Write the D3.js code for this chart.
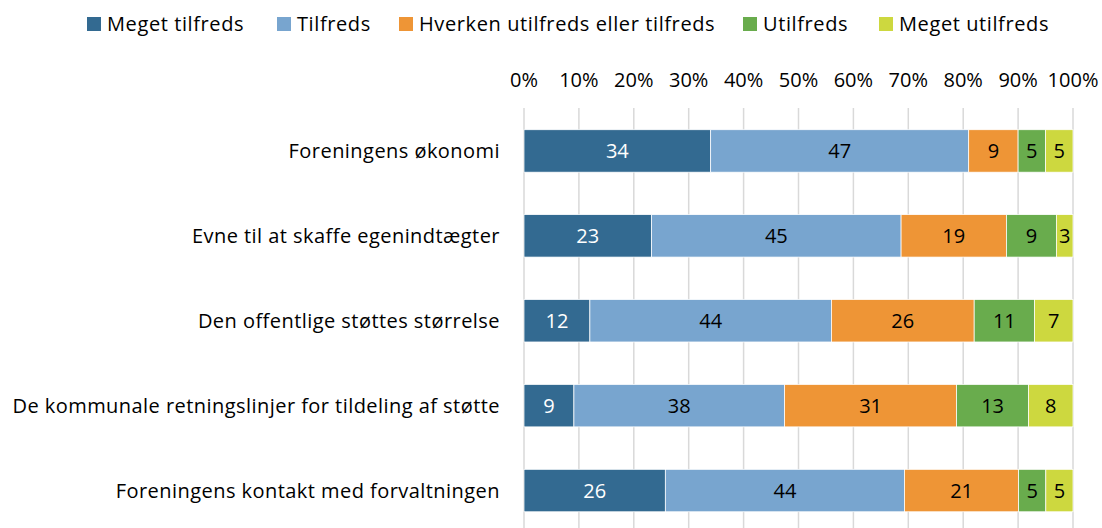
<!DOCTYPE html>
<html>
<head>
<meta charset="utf-8">
<script src="https://cdn.jsdelivr.net/npm/d3@7"></script>
<style>
  body { margin: 0; background: #fff; }
  svg { display: block; font-family: "Open Sans", Lato, sans-serif; }
</style>
</head>
<body>
<svg id="chart" width="1102" height="528"></svg>
<script>
// data
const categories = [
	'Foreningens økonomi',
	'Evne til at skaffe egenindtægter',
	'Den offentlige støttes størrelse',
	'De kommunale retningslinjer for tildeling af støtte',
	'Foreningens kontakt med forvaltningen'
]
const seriesNames = ['Meget tilfreds', 'Tilfreds', 'Hverken utilfreds eller tilfreds', 'Utilfreds', 'Meget utilfreds']
const megetTilfreds = [34, 23, 12, 9, 26]
const tilfreds = [47, 45, 44, 38, 44]
const hverken = [9, 19, 26, 31, 21]
const utilfreds = [5, 9, 11, 13, 5]
const megetUtilfreds = [5, 3, 7, 8, 5]
const tickValues = [0, 0.1, 0.2, 0.3, 0.4, 0.5, 0.6, 0.7, 0.8, 0.9, 1]

const colors = ['#336a91', '#78a5cf', '#ee9536', '#69ac4d', '#cdd83f']
const labelColors = ['#fff', '#000', '#000', '#000', '#000']
const fontSize = 20

const svg = d3.select('#chart')

const rows = categories.map((c, i) => ({
	cat: c,
	s0: megetTilfreds[i], s1: tilfreds[i], s2: hverken[i], s3: utilfreds[i], s4: megetUtilfreds[i]
}))
const keys = ['s0', 's1', 's2', 's3', 's4']
const stacked = d3.stack().keys(keys).offset(d3.stackOffsetExpand)(rows)

const x = d3.scaleLinear().domain([0, 1]).range([524, 1073])
const y = d3.scaleBand().domain(categories).range([108.5, 533]).paddingInner(0.5).paddingOuter(0.25)

// gridlines
svg.append('g')
	.selectAll('line')
	.data(tickValues)
	.join('line')
	.attr('x1', d => x(d)).attr('x2', d => x(d))
	.attr('y1', 108).attr('y2', 528)
	.attr('stroke', '#d9d9d9')
	.attr('stroke-width', 1.5)

// axis labels at top
svg.append('g')
	.selectAll('text')
	.data(tickValues)
	.join('text')
	.attr('x', d => x(d))
	.attr('y', 80)
	.attr('dy', '0.35em')
	.attr('text-anchor', 'middle')
	.attr('font-size', fontSize)
	.attr('fill', '#000')
	.text(d => d3.format('.0%')(d))

// bars
const layer = svg.append('g')
	.selectAll('g')
	.data(stacked)
	.join('g')
	.attr('fill', (d, i) => colors[i])

layer.selectAll('rect')
	.data(d => d)
	.join('rect')
	.attr('x', d => x(d[0]))
	.attr('width', d => x(d[1]) - x(d[0]))
	.attr('y', d => y(d.data.cat))
	.attr('height', y.bandwidth())
	.attr('stroke', '#fff')
	.attr('stroke-width', 0.75)

// value labels
stacked.forEach((s, si) => {
	svg.append('g')
		.selectAll('text')
		.data(s)
		.join('text')
		.attr('x', d => (x(d[0]) + x(d[1])) / 2)
		.attr('y', d => y(d.data.cat) + y.bandwidth() / 2)
		.attr('dy', '0.35em')
		.attr('text-anchor', 'middle')
		.attr('font-size', fontSize)
		.attr('fill', labelColors[si])
		.text(d => d.data[s.key])
})

// category labels
svg.append('g')
	.selectAll('text')
	.data(categories)
	.join('text')
	.attr('x', 500)
	.attr('y', d => y(d) + y.bandwidth() / 2)
	.attr('dy', '0.35em')
	.attr('text-anchor', 'end')
	.attr('font-size', fontSize)
	.attr('letter-spacing', 0.45)
	.attr('fill', '#000')
	.text(d => d)

// legend
const legendX = [87, 277, 399, 743, 879]
const legend = svg.append('g')
	.selectAll('g')
	.data(seriesNames)
	.join('g')
	.attr('transform', (d, i) => `translate(${legendX[i]},0)`)

legend.append('rect')
	.attr('x', 0).attr('y', 17)
	.attr('width', 14).attr('height', 14)
	.attr('fill', (d, i) => colors[i])

legend.append('text')
	.attr('x', 20).attr('y', 24)
	.attr('dy', '0.35em')
	.attr('font-size', fontSize)
	.attr('letter-spacing', 0.6)
	.attr('fill', '#000')
	.text(d => d)
</script>
</body>
</html>
